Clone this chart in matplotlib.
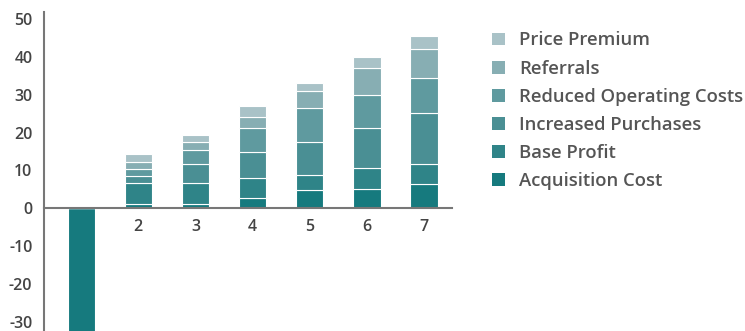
import numpy as np
import matplotlib.pyplot as plt
from matplotlib.patches import Patch

# Values
years = [1, 2, 3, 4, 5, 6, 7]
acquisition_cost = [-35, 1.0, 1.0, 2.7, 4.7, 5.2, 6.3]
base_profit = [0, 5.6, 5.6, 5.3, 4.2, 5.3, 5.3]
increased_purchases = [0, 1.8, 5.0, 6.9, 8.6, 10.6, 13.7]
reduced_operating_costs = [0, 1.9, 3.8, 6.2, 8.9, 8.8, 9.2]
referrals = [0, 1.9, 2.0, 3.1, 4.5, 7.1, 7.6]
price_premium = [0, 2.1, 2.0, 2.8, 2.1, 3.0, 3.5]

series = [
    ("Acquisition Cost", acquisition_cost, "#167a7e"),
    ("Base Profit", base_profit, "#2f8488"),
    ("Increased Purchases", increased_purchases, "#4a8f94"),
    ("Reduced Operating Costs", reduced_operating_costs, "#5f9a9f"),
    ("Referrals", referrals, "#87aeb3"),
    ("Price Premium", price_premium, "#a9c2c7"),
]

plt.rcParams["font.family"] = ["Open Sans", "DejaVu Sans"]
plt.rcParams["axes.unicode_minus"] = False

fig = plt.figure(figsize=(7.45, 3.31), dpi=100)
ax = fig.add_axes([0.0584, 0.0, 0.5483, 0.9637])

x = np.array(years)
bottom = np.zeros(len(years))
handles = []
for name, vals, col in series:
    vals = np.array(vals, dtype=float)
    b = np.where(vals < 0, 0, bottom)
    ax.bar(x, vals, 0.48, bottom=b, color=col, edgecolor="white", linewidth=0.8)
    bottom = bottom + np.where(vals > 0, vals, 0)
    handles.append(Patch(facecolor=col, edgecolor="none", label=name))

ax.set_xlim(0.34, 7.49)
ax.set_ylim(-32.5, 51.9)

for s in ["top", "right"]:
    ax.spines[s].set_visible(False)
ax.spines["bottom"].set_position(("data", 0))
for s in ["bottom", "left"]:
    ax.spines[s].set_color("#777777")
    ax.spines[s].set_linewidth(1.5)

ax.set_xticks(years[1:])
ax.set_yticks(np.arange(-30, 51, 10))
ax.tick_params(axis="both", length=0, labelsize=11.5, colors="#444444")
ax.tick_params(axis="y", pad=8)
ax.tick_params(axis="x", pad=8)
for lab in ax.get_xticklabels() + ax.get_yticklabels():
    lab.set_fontweight("semibold")

fig.legend(handles[::-1], [h.get_label() for h in handles[::-1]],
           loc="upper left", bbox_to_anchor=(0.66, 0.905),
           frameon=False, prop={"size": 13.3, "weight": "semibold"},
           labelcolor="#555555",
           handlelength=0.7, handleheight=0.7, handletextpad=0.8,
           labelspacing=0.55, borderpad=0, borderaxespad=0)

plt.savefig("out.png", dpi=100)
